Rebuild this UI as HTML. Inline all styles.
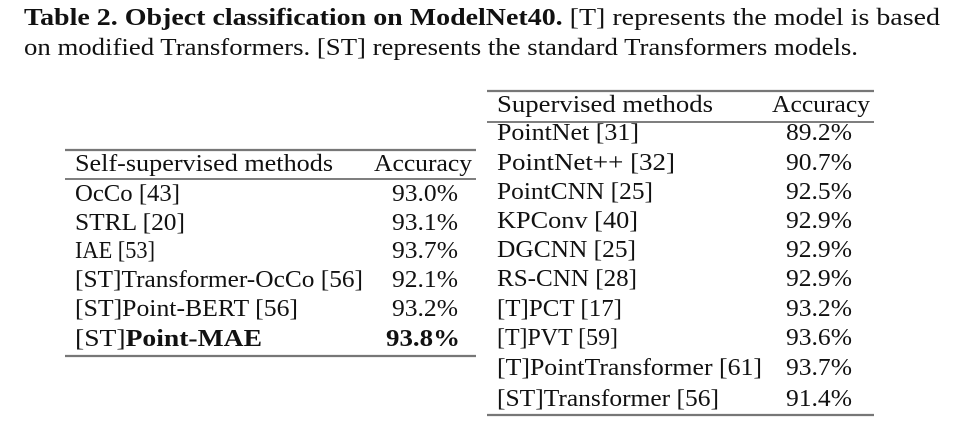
<!DOCTYPE html>
<html><head><meta charset="utf-8"><style>
html,body{margin:0;padding:0;background:#fff;}
svg{display:block;}
text{font-family:"Liberation Serif",serif;font-size:24px;fill:#111;}
</style></head><body>
<svg width="954" height="423" viewBox="0 0 954 423" xmlns="http://www.w3.org/2000/svg">
<text x="24" y="25" textLength="916" lengthAdjust="spacingAndGlyphs"><tspan font-weight="bold">Table 2. Object classification on ModelNet40.</tspan> [T] represents the model is based</text>
<text x="24" y="55" textLength="834" lengthAdjust="spacingAndGlyphs">on modified Transformers. [ST] represents the standard Transformers models.</text>

<g lengthAdjust="spacingAndGlyphs">
<line x1="487" y1="91" x2="874" y2="91" stroke="#777" stroke-width="2.2"/>
<line x1="487" y1="122" x2="874" y2="122" stroke="#333" stroke-width="1.3"/>
<line x1="487" y1="415" x2="874" y2="415" stroke="#777" stroke-width="2.2"/>
<text x="497" y="112" textLength="216" lengthAdjust="spacingAndGlyphs">Supervised methods</text>
<text x="772" y="112" textLength="98" lengthAdjust="spacingAndGlyphs">Accuracy</text>
<text x="786" y="140" textLength="66" lengthAdjust="spacingAndGlyphs">89.2%</text>
<text x="786" y="170" textLength="66" lengthAdjust="spacingAndGlyphs">90.7%</text>
<text x="786" y="199" textLength="66" lengthAdjust="spacingAndGlyphs">92.5%</text>
<text x="786" y="228" textLength="66" lengthAdjust="spacingAndGlyphs">92.9%</text>
<text x="786" y="257" textLength="66" lengthAdjust="spacingAndGlyphs">92.9%</text>
<text x="786" y="286" textLength="66" lengthAdjust="spacingAndGlyphs">92.9%</text>
<text x="786" y="316" textLength="66" lengthAdjust="spacingAndGlyphs">93.2%</text>
<text x="786" y="345" textLength="66" lengthAdjust="spacingAndGlyphs">93.6%</text>
<text x="786" y="375" textLength="66" lengthAdjust="spacingAndGlyphs">93.7%</text>
<text x="786" y="406" textLength="66" lengthAdjust="spacingAndGlyphs">91.4%</text>
<text x="497" y="140" textLength="142" lengthAdjust="spacingAndGlyphs">PointNet [31]</text>
<text x="497" y="170" textLength="178" lengthAdjust="spacingAndGlyphs">PointNet++ [32]</text>
<text x="497" y="199" textLength="156" lengthAdjust="spacingAndGlyphs">PointCNN [25]</text>
<text x="497" y="228" textLength="141" lengthAdjust="spacingAndGlyphs">KPConv [40]</text>
<text x="497" y="257" textLength="139" lengthAdjust="spacingAndGlyphs">DGCNN [25]</text>
<text x="497" y="286" textLength="140" lengthAdjust="spacingAndGlyphs">RS-CNN [28]</text>
<text x="497" y="316" textLength="125" lengthAdjust="spacingAndGlyphs">[T]PCT [17]</text>
<text x="497" y="345" textLength="121" lengthAdjust="spacingAndGlyphs">[T]PVT [59]</text>
<text x="497" y="375" textLength="265" lengthAdjust="spacingAndGlyphs">[T]PointTransformer [61]</text>
<text x="497" y="406" textLength="222" lengthAdjust="spacingAndGlyphs">[ST]Transformer [56]</text>

<line x1="65" y1="150" x2="476" y2="150" stroke="#777" stroke-width="2.2"/>
<line x1="65" y1="179" x2="476" y2="179" stroke="#333" stroke-width="1.3"/>
<line x1="65" y1="356" x2="476" y2="356" stroke="#777" stroke-width="2.2"/>
<text x="75" y="171" textLength="258" lengthAdjust="spacingAndGlyphs">Self-supervised methods</text>
<text x="374" y="171" textLength="98" lengthAdjust="spacingAndGlyphs">Accuracy</text>
<text x="75" y="201" textLength="105" lengthAdjust="spacingAndGlyphs">OcCo [43]</text>
<text x="75" y="230" textLength="110" lengthAdjust="spacingAndGlyphs">STRL [20]</text>
<text x="75" y="258" textLength="80" lengthAdjust="spacingAndGlyphs">IAE [53]</text>
<text x="75" y="287" textLength="288" lengthAdjust="spacingAndGlyphs">[ST]Transformer-OcCo [56]</text>
<text x="75" y="316" textLength="223" lengthAdjust="spacingAndGlyphs">[ST]Point-BERT [56]</text>
<text x="75" y="346" textLength="187" lengthAdjust="spacingAndGlyphs">[ST]<tspan font-weight="bold">Point-MAE</tspan></text>
<text x="392" y="201" textLength="66" lengthAdjust="spacingAndGlyphs">93.0%</text>
<text x="392" y="230" textLength="66" lengthAdjust="spacingAndGlyphs">93.1%</text>
<text x="392" y="258" textLength="66" lengthAdjust="spacingAndGlyphs">93.7%</text>
<text x="392" y="287" textLength="66" lengthAdjust="spacingAndGlyphs">92.1%</text>
<text x="392" y="316" textLength="66" lengthAdjust="spacingAndGlyphs">93.2%</text>
<text x="386" y="346" font-weight="bold" textLength="74" lengthAdjust="spacingAndGlyphs">93.8%</text>
</g>
</svg>
</body></html>
